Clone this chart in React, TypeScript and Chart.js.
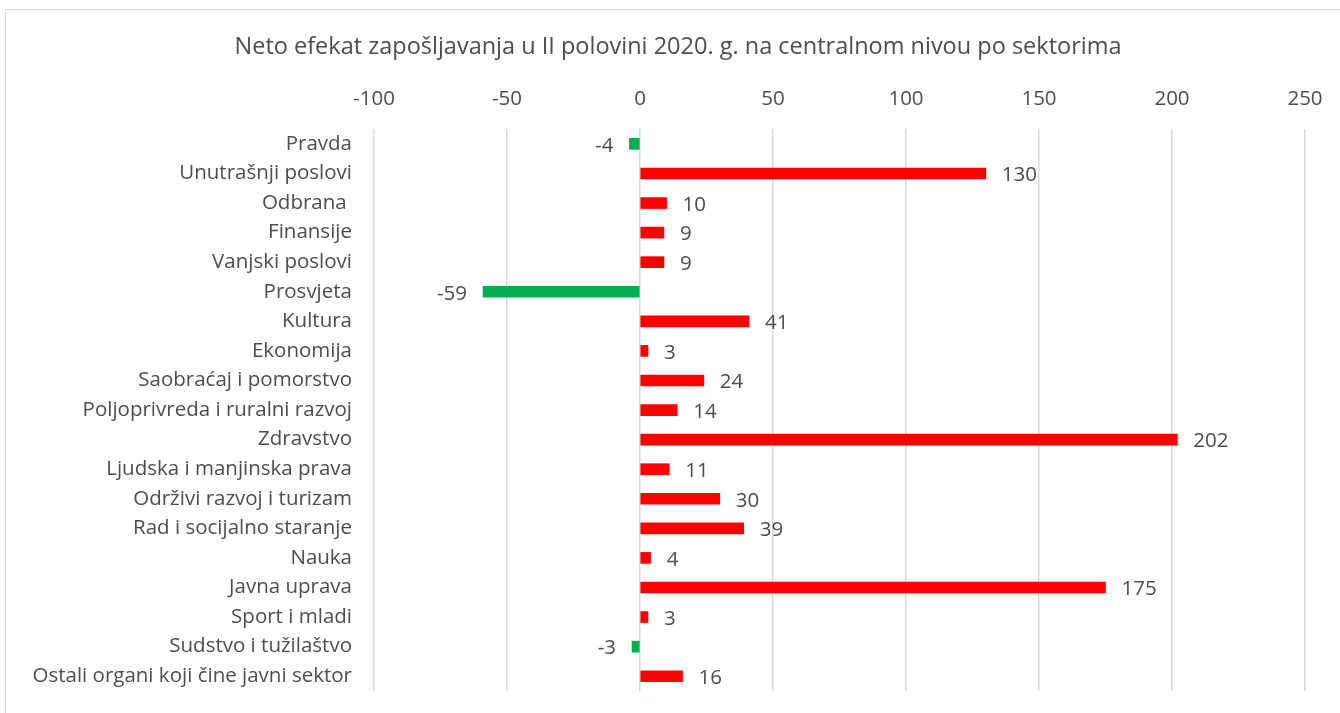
import React, { useEffect, useRef } from "react";
import { Chart, registerables } from "chart.js";

Chart.register(...registerables);

const titleText =
  "Neto efekat zapošljavanja u II polovini 2020. g. na centralnom nivou po sektorima";

const categories = [
  "Pravda",
  "Unutrašnji poslovi",
  "Odbrana ",
  "Finansije",
  "Vanjski poslovi",
  "Prosvjeta",
  "Kultura",
  "Ekonomija",
  "Saobraćaj i pomorstvo",
  "Poljoprivreda i ruralni razvoj",
  "Zdravstvo",
  "Ljudska i manjinska prava",
  "Održivi razvoj i turizam",
  "Rad i socijalno staranje",
  "Nauka",
  "Javna uprava",
  "Sport i mladi",
  "Sudstvo i tužilaštvo",
  "Ostali organi koji čine javni sektor",
];

const values = [-4, 130, 10, 9, 9, -59, 41, 3, 24, 14, 202, 11, 30, 39, 4, 175, 3, -3, 16];

const xMin = -100;
const xMax = 250;
const xStep = 50;

const POS_COLOR = "#FF0000";
const NEG_COLOR = "#00B050";
const TEXT_COLOR = "#4D4D4D";
const FONT = "'Open Sans', Lato, sans-serif";
const TICK_SIZE = 20.5;

const labelPlugin = {
  id: "barValueLabels",
  afterLayout(chart: any) {
    // centre the title over the same span as in the reference
    if (chart.titleBlock) {
      chart.titleBlock.left = 51;
    }
  },
  afterDatasetsDraw(chart: any) {
    const ctx = chart.ctx;
    const meta = chart.getDatasetMeta(0);
    ctx.save();
    ctx.font = `${TICK_SIZE}px ${FONT}`;
    ctx.fillStyle = TEXT_COLOR;
    ctx.textBaseline = "middle";
    meta.data.forEach((bar: any, i: number) => {
      const v = values[i];
      const text = String(v);
      if (v >= 0) {
        ctx.textAlign = "left";
        ctx.fillText(text, bar.x + 16, bar.y + 2);
      } else {
        ctx.textAlign = "right";
        ctx.fillText(text, bar.x - 16, bar.y + 2);
      }
    });
    ctx.restore();
  },
};

export default function App() {
  const canvasRef = useRef<HTMLCanvasElement | null>(null);

  useEffect(() => {
    if (!canvasRef.current) return;
    const chart = new Chart(canvasRef.current, {
      type: "bar",
      data: {
        labels: categories,
        datasets: [
          {
            data: values,
            backgroundColor: values.map((v) => (v >= 0 ? POS_COLOR : NEG_COLOR)),
            barThickness: 11,
            borderWidth: 0,
          },
        ],
      },
      options: {
        indexAxis: "y",
        animation: false,
        responsive: false,
        maintainAspectRatio: false,
        layout: { padding: { left: 6, right: 35, top: 0, bottom: 22 } },
        plugins: {
          legend: { display: false },
          tooltip: { enabled: false },
          title: {
            display: true,
            text: titleText,
            color: TEXT_COLOR,
            font: { family: FONT, size: 23.5, weight: "normal" },
            padding: { top: 32.9, bottom: 27 },
          },
        },
        scales: {
          x: {
            position: "top",
            min: xMin,
            max: xMax,
            ticks: {
              stepSize: xStep,
              color: TEXT_COLOR,
              font: { family: FONT, size: TICK_SIZE },
              padding: 18,
            },
            grid: { color: "#D9D9D9", lineWidth: 1.5, drawTicks: false },
            border: { display: false },
            afterFit: (scale: any) => {
              scale.height = 41;
              scale.paddingLeft = 0;
              scale.paddingRight = 0;
            },
          },
          y: {
            ticks: {
              color: TEXT_COLOR,
              font: { family: FONT, size: TICK_SIZE },
              padding: 22,
              autoSkip: false,
            },
            grid: { display: false, drawTicks: false },
            border: { display: false },
            afterFit: (scale: any) => {
              scale.width = 374 - 6;
              scale.paddingTop = 0;
              scale.paddingBottom = 0;
            },
          },
        },
      },
      plugins: [labelPlugin],
    });
    return () => chart.destroy();
  }, []);

  return (
    <div>
      <canvas
        ref={canvasRef}
        width={1340}
        height={713}
        style={{ position: "fixed", left: 0, top: 0, width: 1340, height: 713 }}
      />
      <div
        style={{
          position: "fixed",
          left: 5,
          top: 9,
          width: 1340,
          height: 713,
          borderTop: "1px solid #D9D9D9",
          borderLeft: "1px solid #D9D9D9",
          pointerEvents: "none",
        }}
      />
    </div>
  );
}
